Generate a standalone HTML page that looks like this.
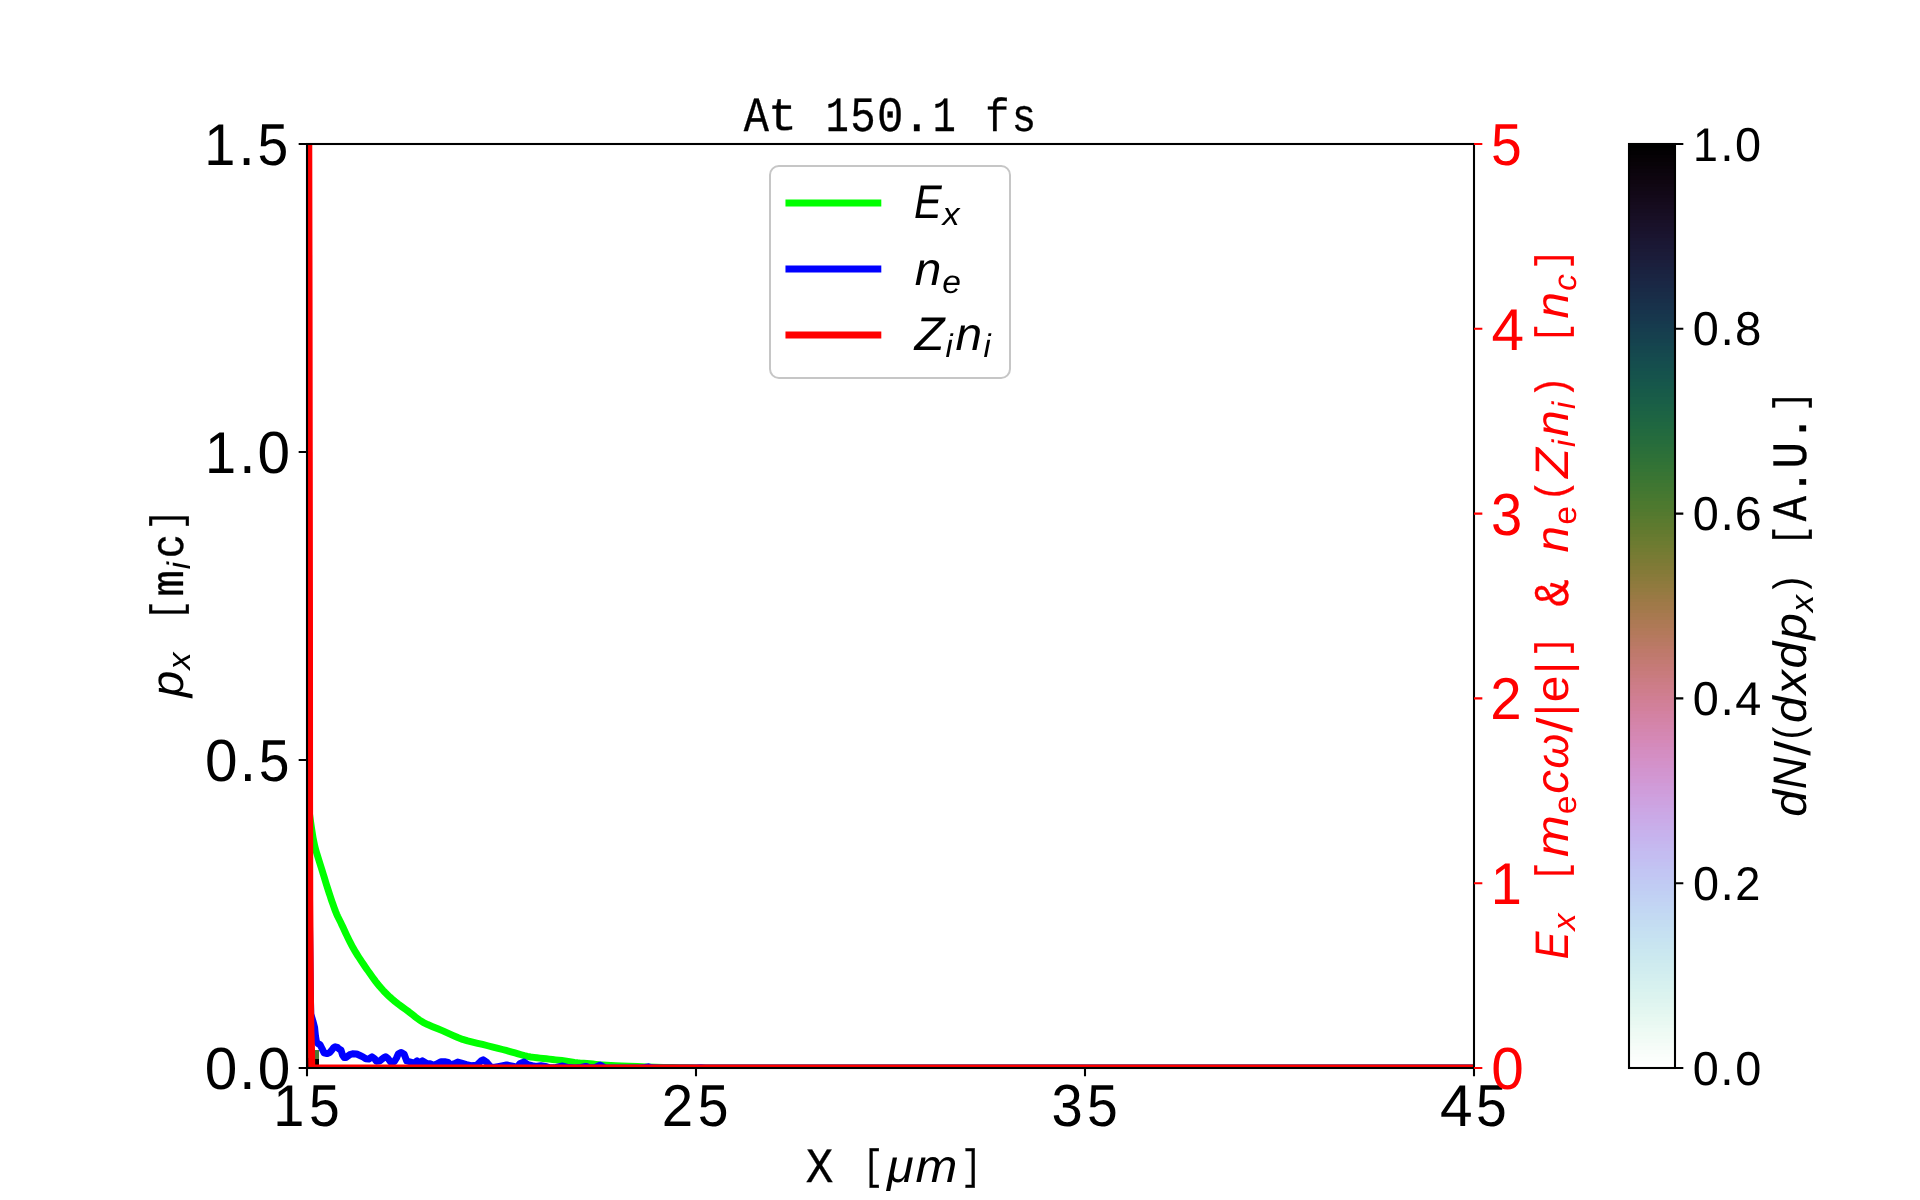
<!DOCTYPE html>
<html><head><meta charset="utf-8"><title>At 150.1 fs</title><style>
html,body{margin:0;padding:0;background:#fff;width:1920px;height:1200px;overflow:hidden}
svg{display:block;will-change:transform}
text{font-kerning:none;text-rendering:geometricPrecision}
.s{font-family:"Liberation Sans",sans-serif}
.i{font-family:"Liberation Sans",sans-serif;font-style:italic}
.m{font-family:"Liberation Mono",monospace;stroke-width:0.3px}
.s,.i{stroke-width:0}
</style></head><body>
<svg width="1920" height="1200" viewBox="0 0 1920 1200">
<rect width="1920" height="1200" fill="#fff"/>
<defs><clipPath id="ax"><rect x="307" y="144" width="1167" height="924"/></clipPath>
<linearGradient id="cb" x1="0" y1="1068" x2="0" y2="144" gradientUnits="userSpaceOnUse"><stop offset="0.00000" stop-color="#ffffff"/><stop offset="0.00391" stop-color="#ffffff"/><stop offset="0.00391" stop-color="#fdfefe"/><stop offset="0.00781" stop-color="#fdfefe"/><stop offset="0.00781" stop-color="#fbfefc"/><stop offset="0.01172" stop-color="#fbfefc"/><stop offset="0.01172" stop-color="#fafdfb"/><stop offset="0.01562" stop-color="#fafdfb"/><stop offset="0.01562" stop-color="#f8fdfa"/><stop offset="0.01953" stop-color="#f8fdfa"/><stop offset="0.01953" stop-color="#f6fcf8"/><stop offset="0.02344" stop-color="#f6fcf8"/><stop offset="0.02344" stop-color="#f4fcf7"/><stop offset="0.02734" stop-color="#f4fcf7"/><stop offset="0.02734" stop-color="#f2fbf6"/><stop offset="0.03125" stop-color="#f2fbf6"/><stop offset="0.03125" stop-color="#f0fbf5"/><stop offset="0.03516" stop-color="#f0fbf5"/><stop offset="0.03516" stop-color="#effaf4"/><stop offset="0.03906" stop-color="#effaf4"/><stop offset="0.03906" stop-color="#edfaf4"/><stop offset="0.04297" stop-color="#edfaf4"/><stop offset="0.04297" stop-color="#ebf9f3"/><stop offset="0.04688" stop-color="#ebf9f3"/><stop offset="0.04688" stop-color="#e9f8f2"/><stop offset="0.05078" stop-color="#e9f8f2"/><stop offset="0.05078" stop-color="#e7f8f1"/><stop offset="0.05469" stop-color="#e7f8f1"/><stop offset="0.05469" stop-color="#e5f7f1"/><stop offset="0.05859" stop-color="#e5f7f1"/><stop offset="0.05859" stop-color="#e3f6f0"/><stop offset="0.06250" stop-color="#e3f6f0"/><stop offset="0.06250" stop-color="#e2f6f0"/><stop offset="0.06641" stop-color="#e2f6f0"/><stop offset="0.06641" stop-color="#e0f5f0"/><stop offset="0.07031" stop-color="#e0f5f0"/><stop offset="0.07031" stop-color="#def4ef"/><stop offset="0.07422" stop-color="#def4ef"/><stop offset="0.07422" stop-color="#dcf3ef"/><stop offset="0.07812" stop-color="#dcf3ef"/><stop offset="0.07812" stop-color="#dbf3ef"/><stop offset="0.08203" stop-color="#dbf3ef"/><stop offset="0.08203" stop-color="#d9f2ef"/><stop offset="0.08594" stop-color="#d9f2ef"/><stop offset="0.08594" stop-color="#d7f1ef"/><stop offset="0.08984" stop-color="#d7f1ef"/><stop offset="0.08984" stop-color="#d6f0ef"/><stop offset="0.09375" stop-color="#d6f0ef"/><stop offset="0.09375" stop-color="#d4efef"/><stop offset="0.09766" stop-color="#d4efef"/><stop offset="0.09766" stop-color="#d3eeef"/><stop offset="0.10156" stop-color="#d3eeef"/><stop offset="0.10156" stop-color="#d1edef"/><stop offset="0.10547" stop-color="#d1edef"/><stop offset="0.10547" stop-color="#d0ecef"/><stop offset="0.10938" stop-color="#d0ecef"/><stop offset="0.10938" stop-color="#cfebef"/><stop offset="0.11328" stop-color="#cfebef"/><stop offset="0.11328" stop-color="#cdeaef"/><stop offset="0.11719" stop-color="#cdeaef"/><stop offset="0.11719" stop-color="#cce9ef"/><stop offset="0.12109" stop-color="#cce9ef"/><stop offset="0.12109" stop-color="#cbe8f0"/><stop offset="0.12500" stop-color="#cbe8f0"/><stop offset="0.12500" stop-color="#cae7f0"/><stop offset="0.12891" stop-color="#cae7f0"/><stop offset="0.12891" stop-color="#c9e5f0"/><stop offset="0.13281" stop-color="#c9e5f0"/><stop offset="0.13281" stop-color="#c8e4f0"/><stop offset="0.13672" stop-color="#c8e4f0"/><stop offset="0.13672" stop-color="#c7e3f1"/><stop offset="0.14062" stop-color="#c7e3f1"/><stop offset="0.14062" stop-color="#c6e1f1"/><stop offset="0.14453" stop-color="#c6e1f1"/><stop offset="0.14453" stop-color="#c6e0f1"/><stop offset="0.14844" stop-color="#c6e0f1"/><stop offset="0.14844" stop-color="#c5dff2"/><stop offset="0.15234" stop-color="#c5dff2"/><stop offset="0.15234" stop-color="#c4ddf2"/><stop offset="0.15625" stop-color="#c4ddf2"/><stop offset="0.15625" stop-color="#c4dcf2"/><stop offset="0.16016" stop-color="#c4dcf2"/><stop offset="0.16016" stop-color="#c3daf2"/><stop offset="0.16406" stop-color="#c3daf2"/><stop offset="0.16406" stop-color="#c3d9f3"/><stop offset="0.16797" stop-color="#c3d9f3"/><stop offset="0.16797" stop-color="#c2d7f3"/><stop offset="0.17188" stop-color="#c2d7f3"/><stop offset="0.17188" stop-color="#c2d6f3"/><stop offset="0.17578" stop-color="#c2d6f3"/><stop offset="0.17578" stop-color="#c2d4f3"/><stop offset="0.17969" stop-color="#c2d4f3"/><stop offset="0.17969" stop-color="#c2d2f3"/><stop offset="0.18359" stop-color="#c2d2f3"/><stop offset="0.18359" stop-color="#c1d1f3"/><stop offset="0.18750" stop-color="#c1d1f3"/><stop offset="0.18750" stop-color="#c1cff3"/><stop offset="0.19141" stop-color="#c1cff3"/><stop offset="0.19141" stop-color="#c1cdf3"/><stop offset="0.19531" stop-color="#c1cdf3"/><stop offset="0.19531" stop-color="#c1ccf3"/><stop offset="0.19922" stop-color="#c1ccf3"/><stop offset="0.19922" stop-color="#c1caf3"/><stop offset="0.20312" stop-color="#c1caf3"/><stop offset="0.20312" stop-color="#c2c8f3"/><stop offset="0.20703" stop-color="#c2c8f3"/><stop offset="0.20703" stop-color="#c2c6f3"/><stop offset="0.21094" stop-color="#c2c6f3"/><stop offset="0.21094" stop-color="#c2c5f3"/><stop offset="0.21484" stop-color="#c2c5f3"/><stop offset="0.21484" stop-color="#c2c3f2"/><stop offset="0.21875" stop-color="#c2c3f2"/><stop offset="0.21875" stop-color="#c3c1f2"/><stop offset="0.22266" stop-color="#c3c1f2"/><stop offset="0.22266" stop-color="#c3bff2"/><stop offset="0.22656" stop-color="#c3bff2"/><stop offset="0.22656" stop-color="#c4bdf1"/><stop offset="0.23047" stop-color="#c4bdf1"/><stop offset="0.23047" stop-color="#c4bcf1"/><stop offset="0.23438" stop-color="#c4bcf1"/><stop offset="0.23438" stop-color="#c5baf0"/><stop offset="0.23828" stop-color="#c5baf0"/><stop offset="0.23828" stop-color="#c5b8ef"/><stop offset="0.24219" stop-color="#c5b8ef"/><stop offset="0.24219" stop-color="#c6b6ee"/><stop offset="0.24609" stop-color="#c6b6ee"/><stop offset="0.24609" stop-color="#c6b4ee"/><stop offset="0.25000" stop-color="#c6b4ee"/><stop offset="0.25000" stop-color="#c7b2ed"/><stop offset="0.25391" stop-color="#c7b2ed"/><stop offset="0.25391" stop-color="#c8b1ec"/><stop offset="0.25781" stop-color="#c8b1ec"/><stop offset="0.25781" stop-color="#c8afea"/><stop offset="0.26172" stop-color="#c8afea"/><stop offset="0.26172" stop-color="#c9ade9"/><stop offset="0.26562" stop-color="#c9ade9"/><stop offset="0.26562" stop-color="#caabe8"/><stop offset="0.26953" stop-color="#caabe8"/><stop offset="0.26953" stop-color="#caa9e7"/><stop offset="0.27344" stop-color="#caa9e7"/><stop offset="0.27344" stop-color="#cba8e5"/><stop offset="0.27734" stop-color="#cba8e5"/><stop offset="0.27734" stop-color="#cca6e4"/><stop offset="0.28125" stop-color="#cca6e4"/><stop offset="0.28125" stop-color="#cca4e2"/><stop offset="0.28516" stop-color="#cca4e2"/><stop offset="0.28516" stop-color="#cda2e0"/><stop offset="0.28906" stop-color="#cda2e0"/><stop offset="0.28906" stop-color="#cea1df"/><stop offset="0.29297" stop-color="#cea1df"/><stop offset="0.29297" stop-color="#cf9fdd"/><stop offset="0.29688" stop-color="#cf9fdd"/><stop offset="0.29688" stop-color="#cf9ddb"/><stop offset="0.30078" stop-color="#cf9ddb"/><stop offset="0.30078" stop-color="#d09cd9"/><stop offset="0.30469" stop-color="#d09cd9"/><stop offset="0.30469" stop-color="#d09ad7"/><stop offset="0.30859" stop-color="#d09ad7"/><stop offset="0.30859" stop-color="#d198d4"/><stop offset="0.31250" stop-color="#d198d4"/><stop offset="0.31250" stop-color="#d297d2"/><stop offset="0.31641" stop-color="#d297d2"/><stop offset="0.31641" stop-color="#d295d0"/><stop offset="0.32031" stop-color="#d295d0"/><stop offset="0.32031" stop-color="#d294ce"/><stop offset="0.32422" stop-color="#d294ce"/><stop offset="0.32422" stop-color="#d392cb"/><stop offset="0.32812" stop-color="#d392cb"/><stop offset="0.32812" stop-color="#d391c9"/><stop offset="0.33203" stop-color="#d391c9"/><stop offset="0.33203" stop-color="#d490c6"/><stop offset="0.33594" stop-color="#d490c6"/><stop offset="0.33594" stop-color="#d48ec3"/><stop offset="0.33984" stop-color="#d48ec3"/><stop offset="0.33984" stop-color="#d48dc1"/><stop offset="0.34375" stop-color="#d48dc1"/><stop offset="0.34375" stop-color="#d48cbe"/><stop offset="0.34766" stop-color="#d48cbe"/><stop offset="0.34766" stop-color="#d48abb"/><stop offset="0.35156" stop-color="#d48abb"/><stop offset="0.35156" stop-color="#d589b8"/><stop offset="0.35547" stop-color="#d589b8"/><stop offset="0.35547" stop-color="#d588b5"/><stop offset="0.35938" stop-color="#d588b5"/><stop offset="0.35938" stop-color="#d487b2"/><stop offset="0.36328" stop-color="#d487b2"/><stop offset="0.36328" stop-color="#d486af"/><stop offset="0.36719" stop-color="#d486af"/><stop offset="0.36719" stop-color="#d485ac"/><stop offset="0.37109" stop-color="#d485ac"/><stop offset="0.37109" stop-color="#d484a9"/><stop offset="0.37500" stop-color="#d484a9"/><stop offset="0.37500" stop-color="#d383a6"/><stop offset="0.37891" stop-color="#d383a6"/><stop offset="0.37891" stop-color="#d382a3"/><stop offset="0.38281" stop-color="#d382a3"/><stop offset="0.38281" stop-color="#d381a0"/><stop offset="0.38672" stop-color="#d381a0"/><stop offset="0.38672" stop-color="#d2809c"/><stop offset="0.39062" stop-color="#d2809c"/><stop offset="0.39062" stop-color="#d18099"/><stop offset="0.39453" stop-color="#d18099"/><stop offset="0.39453" stop-color="#d17f96"/><stop offset="0.39844" stop-color="#d17f96"/><stop offset="0.39844" stop-color="#d07e93"/><stop offset="0.40234" stop-color="#d07e93"/><stop offset="0.40234" stop-color="#cf7e8f"/><stop offset="0.40625" stop-color="#cf7e8f"/><stop offset="0.40625" stop-color="#ce7d8c"/><stop offset="0.41016" stop-color="#ce7d8c"/><stop offset="0.41016" stop-color="#cd7d89"/><stop offset="0.41406" stop-color="#cd7d89"/><stop offset="0.41406" stop-color="#cc7c86"/><stop offset="0.41797" stop-color="#cc7c86"/><stop offset="0.41797" stop-color="#ca7c83"/><stop offset="0.42188" stop-color="#ca7c83"/><stop offset="0.42188" stop-color="#c97b7f"/><stop offset="0.42578" stop-color="#c97b7f"/><stop offset="0.42578" stop-color="#c87b7c"/><stop offset="0.42969" stop-color="#c87b7c"/><stop offset="0.42969" stop-color="#c67a79"/><stop offset="0.43359" stop-color="#c67a79"/><stop offset="0.43359" stop-color="#c57a76"/><stop offset="0.43750" stop-color="#c57a76"/><stop offset="0.43750" stop-color="#c37a73"/><stop offset="0.44141" stop-color="#c37a73"/><stop offset="0.44141" stop-color="#c17a70"/><stop offset="0.44531" stop-color="#c17a70"/><stop offset="0.44531" stop-color="#bf796d"/><stop offset="0.44922" stop-color="#bf796d"/><stop offset="0.44922" stop-color="#be796a"/><stop offset="0.45312" stop-color="#be796a"/><stop offset="0.45312" stop-color="#bc7967"/><stop offset="0.45703" stop-color="#bc7967"/><stop offset="0.45703" stop-color="#b97964"/><stop offset="0.46094" stop-color="#b97964"/><stop offset="0.46094" stop-color="#b77961"/><stop offset="0.46484" stop-color="#b77961"/><stop offset="0.46484" stop-color="#b5795e"/><stop offset="0.46875" stop-color="#b5795e"/><stop offset="0.46875" stop-color="#b3795b"/><stop offset="0.47266" stop-color="#b3795b"/><stop offset="0.47266" stop-color="#b17959"/><stop offset="0.47656" stop-color="#b17959"/><stop offset="0.47656" stop-color="#ae7956"/><stop offset="0.48047" stop-color="#ae7956"/><stop offset="0.48047" stop-color="#ac7954"/><stop offset="0.48438" stop-color="#ac7954"/><stop offset="0.48438" stop-color="#a97951"/><stop offset="0.48828" stop-color="#a97951"/><stop offset="0.48828" stop-color="#a7794f"/><stop offset="0.49219" stop-color="#a7794f"/><stop offset="0.49219" stop-color="#a4794c"/><stop offset="0.49609" stop-color="#a4794c"/><stop offset="0.49609" stop-color="#a1794a"/><stop offset="0.50000" stop-color="#a1794a"/><stop offset="0.50000" stop-color="#9f7948"/><stop offset="0.50391" stop-color="#9f7948"/><stop offset="0.50391" stop-color="#9c7946"/><stop offset="0.50781" stop-color="#9c7946"/><stop offset="0.50781" stop-color="#997944"/><stop offset="0.51172" stop-color="#997944"/><stop offset="0.51172" stop-color="#967a42"/><stop offset="0.51562" stop-color="#967a42"/><stop offset="0.51562" stop-color="#937a40"/><stop offset="0.51953" stop-color="#937a40"/><stop offset="0.51953" stop-color="#907a3e"/><stop offset="0.52344" stop-color="#907a3e"/><stop offset="0.52344" stop-color="#8d7a3d"/><stop offset="0.52734" stop-color="#8d7a3d"/><stop offset="0.52734" stop-color="#8a7a3b"/><stop offset="0.53125" stop-color="#8a7a3b"/><stop offset="0.53125" stop-color="#877a3a"/><stop offset="0.53516" stop-color="#877a3a"/><stop offset="0.53516" stop-color="#847a38"/><stop offset="0.53906" stop-color="#847a38"/><stop offset="0.53906" stop-color="#817a37"/><stop offset="0.54297" stop-color="#817a37"/><stop offset="0.54297" stop-color="#7e7a36"/><stop offset="0.54688" stop-color="#7e7a36"/><stop offset="0.54688" stop-color="#7b7a35"/><stop offset="0.55078" stop-color="#7b7a35"/><stop offset="0.55078" stop-color="#787b34"/><stop offset="0.55469" stop-color="#787b34"/><stop offset="0.55469" stop-color="#757b33"/><stop offset="0.55859" stop-color="#757b33"/><stop offset="0.55859" stop-color="#727b32"/><stop offset="0.56250" stop-color="#727b32"/><stop offset="0.56250" stop-color="#6f7b31"/><stop offset="0.56641" stop-color="#6f7b31"/><stop offset="0.56641" stop-color="#6c7b31"/><stop offset="0.57031" stop-color="#6c7b31"/><stop offset="0.57031" stop-color="#697b30"/><stop offset="0.57422" stop-color="#697b30"/><stop offset="0.57422" stop-color="#667a30"/><stop offset="0.57812" stop-color="#667a30"/><stop offset="0.57812" stop-color="#637a2f"/><stop offset="0.58203" stop-color="#637a2f"/><stop offset="0.58203" stop-color="#607a2f"/><stop offset="0.58594" stop-color="#607a2f"/><stop offset="0.58594" stop-color="#5d7a2f"/><stop offset="0.58984" stop-color="#5d7a2f"/><stop offset="0.58984" stop-color="#5a7a2f"/><stop offset="0.59375" stop-color="#5a7a2f"/><stop offset="0.59375" stop-color="#577a2f"/><stop offset="0.59766" stop-color="#577a2f"/><stop offset="0.59766" stop-color="#54792f"/><stop offset="0.60156" stop-color="#54792f"/><stop offset="0.60156" stop-color="#51792f"/><stop offset="0.60547" stop-color="#51792f"/><stop offset="0.60547" stop-color="#4e792f"/><stop offset="0.60938" stop-color="#4e792f"/><stop offset="0.60938" stop-color="#4c792f"/><stop offset="0.61328" stop-color="#4c792f"/><stop offset="0.61328" stop-color="#497830"/><stop offset="0.61719" stop-color="#497830"/><stop offset="0.61719" stop-color="#467830"/><stop offset="0.62109" stop-color="#467830"/><stop offset="0.62109" stop-color="#447731"/><stop offset="0.62500" stop-color="#447731"/><stop offset="0.62500" stop-color="#417731"/><stop offset="0.62891" stop-color="#417731"/><stop offset="0.62891" stop-color="#3f7632"/><stop offset="0.63281" stop-color="#3f7632"/><stop offset="0.63281" stop-color="#3c7632"/><stop offset="0.63672" stop-color="#3c7632"/><stop offset="0.63672" stop-color="#3a7533"/><stop offset="0.64062" stop-color="#3a7533"/><stop offset="0.64062" stop-color="#387434"/><stop offset="0.64453" stop-color="#387434"/><stop offset="0.64453" stop-color="#357435"/><stop offset="0.64844" stop-color="#357435"/><stop offset="0.64844" stop-color="#337335"/><stop offset="0.65234" stop-color="#337335"/><stop offset="0.65234" stop-color="#317236"/><stop offset="0.65625" stop-color="#317236"/><stop offset="0.65625" stop-color="#2f7137"/><stop offset="0.66016" stop-color="#2f7137"/><stop offset="0.66016" stop-color="#2d7038"/><stop offset="0.66406" stop-color="#2d7038"/><stop offset="0.66406" stop-color="#2b6f39"/><stop offset="0.66797" stop-color="#2b6f39"/><stop offset="0.66797" stop-color="#2a6e3a"/><stop offset="0.67188" stop-color="#2a6e3a"/><stop offset="0.67188" stop-color="#286d3b"/><stop offset="0.67578" stop-color="#286d3b"/><stop offset="0.67578" stop-color="#266c3c"/><stop offset="0.67969" stop-color="#266c3c"/><stop offset="0.67969" stop-color="#256b3d"/><stop offset="0.68359" stop-color="#256b3d"/><stop offset="0.68359" stop-color="#236a3e"/><stop offset="0.68750" stop-color="#236a3e"/><stop offset="0.68750" stop-color="#22693f"/><stop offset="0.69141" stop-color="#22693f"/><stop offset="0.69141" stop-color="#206840"/><stop offset="0.69531" stop-color="#206840"/><stop offset="0.69531" stop-color="#1f6741"/><stop offset="0.69922" stop-color="#1f6741"/><stop offset="0.69922" stop-color="#1e6542"/><stop offset="0.70312" stop-color="#1e6542"/><stop offset="0.70312" stop-color="#1d6443"/><stop offset="0.70703" stop-color="#1d6443"/><stop offset="0.70703" stop-color="#1c6344"/><stop offset="0.71094" stop-color="#1c6344"/><stop offset="0.71094" stop-color="#1b6145"/><stop offset="0.71484" stop-color="#1b6145"/><stop offset="0.71484" stop-color="#1a6046"/><stop offset="0.71875" stop-color="#1a6046"/><stop offset="0.71875" stop-color="#195e47"/><stop offset="0.72266" stop-color="#195e47"/><stop offset="0.72266" stop-color="#195d48"/><stop offset="0.72656" stop-color="#195d48"/><stop offset="0.72656" stop-color="#185b48"/><stop offset="0.73047" stop-color="#185b48"/><stop offset="0.73047" stop-color="#175a49"/><stop offset="0.73438" stop-color="#175a49"/><stop offset="0.73438" stop-color="#17584a"/><stop offset="0.73828" stop-color="#17584a"/><stop offset="0.73828" stop-color="#16574b"/><stop offset="0.74219" stop-color="#16574b"/><stop offset="0.74219" stop-color="#16554b"/><stop offset="0.74609" stop-color="#16554b"/><stop offset="0.74609" stop-color="#16534c"/><stop offset="0.75000" stop-color="#16534c"/><stop offset="0.75000" stop-color="#15524c"/><stop offset="0.75391" stop-color="#15524c"/><stop offset="0.75391" stop-color="#15504d"/><stop offset="0.75781" stop-color="#15504d"/><stop offset="0.75781" stop-color="#154e4d"/><stop offset="0.76172" stop-color="#154e4d"/><stop offset="0.76172" stop-color="#154d4e"/><stop offset="0.76562" stop-color="#154d4e"/><stop offset="0.76562" stop-color="#154b4e"/><stop offset="0.76953" stop-color="#154b4e"/><stop offset="0.76953" stop-color="#15494e"/><stop offset="0.77344" stop-color="#15494e"/><stop offset="0.77344" stop-color="#15474e"/><stop offset="0.77734" stop-color="#15474e"/><stop offset="0.77734" stop-color="#15464e"/><stop offset="0.78125" stop-color="#15464e"/><stop offset="0.78125" stop-color="#15444f"/><stop offset="0.78516" stop-color="#15444f"/><stop offset="0.78516" stop-color="#15424e"/><stop offset="0.78906" stop-color="#15424e"/><stop offset="0.78906" stop-color="#16404e"/><stop offset="0.79297" stop-color="#16404e"/><stop offset="0.79297" stop-color="#163f4e"/><stop offset="0.79688" stop-color="#163f4e"/><stop offset="0.79688" stop-color="#163d4e"/><stop offset="0.80078" stop-color="#163d4e"/><stop offset="0.80078" stop-color="#163b4e"/><stop offset="0.80469" stop-color="#163b4e"/><stop offset="0.80469" stop-color="#16394d"/><stop offset="0.80859" stop-color="#16394d"/><stop offset="0.80859" stop-color="#17374d"/><stop offset="0.81250" stop-color="#17374d"/><stop offset="0.81250" stop-color="#17364c"/><stop offset="0.81641" stop-color="#17364c"/><stop offset="0.81641" stop-color="#17344c"/><stop offset="0.82031" stop-color="#17344c"/><stop offset="0.82031" stop-color="#18324b"/><stop offset="0.82422" stop-color="#18324b"/><stop offset="0.82422" stop-color="#18314a"/><stop offset="0.82812" stop-color="#18314a"/><stop offset="0.82812" stop-color="#182f49"/><stop offset="0.83203" stop-color="#182f49"/><stop offset="0.83203" stop-color="#192d48"/><stop offset="0.83594" stop-color="#192d48"/><stop offset="0.83594" stop-color="#192c47"/><stop offset="0.83984" stop-color="#192c47"/><stop offset="0.83984" stop-color="#192a46"/><stop offset="0.84375" stop-color="#192a46"/><stop offset="0.84375" stop-color="#192845"/><stop offset="0.84766" stop-color="#192845"/><stop offset="0.84766" stop-color="#1a2744"/><stop offset="0.85156" stop-color="#1a2744"/><stop offset="0.85156" stop-color="#1a2543"/><stop offset="0.85547" stop-color="#1a2543"/><stop offset="0.85547" stop-color="#1a2441"/><stop offset="0.85938" stop-color="#1a2441"/><stop offset="0.85938" stop-color="#1a2240"/><stop offset="0.86328" stop-color="#1a2240"/><stop offset="0.86328" stop-color="#1a213e"/><stop offset="0.86719" stop-color="#1a213e"/><stop offset="0.86719" stop-color="#1b1f3d"/><stop offset="0.87109" stop-color="#1b1f3d"/><stop offset="0.87109" stop-color="#1b1e3b"/><stop offset="0.87500" stop-color="#1b1e3b"/><stop offset="0.87500" stop-color="#1b1c3a"/><stop offset="0.87891" stop-color="#1b1c3a"/><stop offset="0.87891" stop-color="#1b1b38"/><stop offset="0.88281" stop-color="#1b1b38"/><stop offset="0.88281" stop-color="#1b1a36"/><stop offset="0.88672" stop-color="#1b1a36"/><stop offset="0.88672" stop-color="#1a1835"/><stop offset="0.89062" stop-color="#1a1835"/><stop offset="0.89062" stop-color="#1a1733"/><stop offset="0.89453" stop-color="#1a1733"/><stop offset="0.89453" stop-color="#1a1631"/><stop offset="0.89844" stop-color="#1a1631"/><stop offset="0.89844" stop-color="#1a142f"/><stop offset="0.90234" stop-color="#1a142f"/><stop offset="0.90234" stop-color="#19132d"/><stop offset="0.90625" stop-color="#19132d"/><stop offset="0.90625" stop-color="#19122b"/><stop offset="0.91016" stop-color="#19122b"/><stop offset="0.91016" stop-color="#191129"/><stop offset="0.91406" stop-color="#191129"/><stop offset="0.91406" stop-color="#181027"/><stop offset="0.91797" stop-color="#181027"/><stop offset="0.91797" stop-color="#180f25"/><stop offset="0.92188" stop-color="#180f25"/><stop offset="0.92188" stop-color="#170e23"/><stop offset="0.92578" stop-color="#170e23"/><stop offset="0.92578" stop-color="#160d21"/><stop offset="0.92969" stop-color="#160d21"/><stop offset="0.92969" stop-color="#160c1f"/><stop offset="0.93359" stop-color="#160c1f"/><stop offset="0.93359" stop-color="#150b1d"/><stop offset="0.93750" stop-color="#150b1d"/><stop offset="0.93750" stop-color="#140a1b"/><stop offset="0.94141" stop-color="#140a1b"/><stop offset="0.94141" stop-color="#130919"/><stop offset="0.94531" stop-color="#130919"/><stop offset="0.94531" stop-color="#120817"/><stop offset="0.94922" stop-color="#120817"/><stop offset="0.94922" stop-color="#110815"/><stop offset="0.95312" stop-color="#110815"/><stop offset="0.95312" stop-color="#100713"/><stop offset="0.95703" stop-color="#100713"/><stop offset="0.95703" stop-color="#0f0611"/><stop offset="0.96094" stop-color="#0f0611"/><stop offset="0.96094" stop-color="#0e050f"/><stop offset="0.96484" stop-color="#0e050f"/><stop offset="0.96484" stop-color="#0c050e"/><stop offset="0.96875" stop-color="#0c050e"/><stop offset="0.96875" stop-color="#0b040c"/><stop offset="0.97266" stop-color="#0b040c"/><stop offset="0.97266" stop-color="#0a030a"/><stop offset="0.97656" stop-color="#0a030a"/><stop offset="0.97656" stop-color="#080308"/><stop offset="0.98047" stop-color="#080308"/><stop offset="0.98047" stop-color="#070206"/><stop offset="0.98438" stop-color="#070206"/><stop offset="0.98438" stop-color="#050205"/><stop offset="0.98828" stop-color="#050205"/><stop offset="0.98828" stop-color="#030103"/><stop offset="0.99219" stop-color="#030103"/><stop offset="0.99219" stop-color="#020102"/><stop offset="0.99609" stop-color="#020102"/><stop offset="0.99609" stop-color="#000000"/><stop offset="1.00000" stop-color="#000000"/></linearGradient></defs>
<g clip-path="url(#ax)"><rect x="315" y="1050" width="4" height="9" fill="#4b7a35"/><rect x="315" y="1059" width="4" height="9" fill="#000"/><rect x="307" y="1030" width="4" height="18" fill="#9a7040"/><rect x="307" y="1048" width="4" height="10" fill="#4b7a35"/><rect x="307" y="1058" width="4" height="10" fill="#000"/></g>
<path d="M307 1068H298.667M307 760H298.667M307 452H298.667M307 144H298.667M307 1068V1076.333M696 1068V1076.333M1085 1068V1076.333M1474 1068V1076.333" stroke="#000" stroke-width="2.083" fill="none"/>
<g fill="#000000" stroke="#000000"><text class="s" font-size="55.556" transform="matrix(1.007 0 0 1.06 273.31 1125.852)">1</text><text class="s" font-size="55.556" transform="matrix(0.995 0 0 1.065 308.887 1126.061)">5</text></g>
<g fill="#000000" stroke="#000000"><text class="s" font-size="55.556" transform="matrix(1.016 0 0 1.063 661.665 1125.812)">2</text><text class="s" font-size="55.556" transform="matrix(0.995 0 0 1.065 697.854 1126.021)">5</text></g>
<g fill="#000000" stroke="#000000"><text class="s" font-size="55.556" transform="matrix(1.012 0 0 1.068 1051.555 1125.969)">3</text><text class="s" font-size="55.556" transform="matrix(0.995 0 0 1.065 1086.884 1125.971)">5</text></g>
<g fill="#000000" stroke="#000000"><text class="s" font-size="55.556" transform="matrix(1.054 0 0 1.06 1440.004 1125.922)">4</text><text class="s" font-size="55.556" transform="matrix(0.995 0 0 1.065 1476.054 1126.131)">5</text></g>
<g fill="#000000" stroke="#000000"><text class="m" font-size="44.444" transform="matrix(1.034 0 0 1.107 805.791 1181.591)">X</text><text class="m" font-size="44.444" x="831.866" y="1179.521"> </text><text class="m" font-size="44.444" transform="matrix(0.775 0 0 0.957 862.874 1178.628)">[</text><text class="i" font-size="44.444" transform="matrix(1.095 0 0 1.048 886.917 1181.896)">μ</text><text class="i" font-size="44.444" transform="matrix(1.131 0 0 1.042 915.486 1181.591)">m</text><text class="m" font-size="44.444" transform="matrix(0.775 0 0 0.957 961.019 1178.628)">]</text></g>
<g fill="#000000" stroke="#000000"><text class="s" font-size="55.556" transform="matrix(1.054 0 0 1.068 204.637 1089.207)">0</text><text class="s" font-size="55.556" transform="matrix(1.082 0 0 1.16 239.061 1089)">.</text><text class="s" font-size="55.556" transform="matrix(1.054 0 0 1.068 257.643 1089.207)">0</text></g>
<g fill="#000000" stroke="#000000"><text class="s" font-size="55.556" transform="matrix(1.054 0 0 1.068 204.962 781.117)">0</text><text class="s" font-size="55.556" transform="matrix(1.082 0 0 1.16 239.386 780.91)">.</text><text class="s" font-size="55.556" transform="matrix(0.995 0 0 1.065 258.667 781.119)">5</text></g>
<g fill="#000000" stroke="#000000"><text class="s" font-size="55.556" transform="matrix(1.007 0 0 1.06 204.946 472.98)">1</text><text class="s" font-size="55.556" transform="matrix(1.082 0 0 1.16 238.901 472.98)">.</text><text class="s" font-size="55.556" transform="matrix(1.054 0 0 1.068 257.483 473.187)">0</text></g>
<g fill="#000000" stroke="#000000"><text class="s" font-size="55.556" transform="matrix(1.007 0 0 1.06 204.281 164.88)">1</text><text class="s" font-size="55.556" transform="matrix(1.082 0 0 1.16 238.236 164.88)">.</text><text class="s" font-size="55.556" transform="matrix(0.995 0 0 1.065 257.517 165.089)">5</text></g>
<g fill="#000000" stroke="#000000"><text class="i" font-size="44.444" transform="matrix(0 -1.078 1.03 0 182.599 697.205)">p</text><text class="i" font-size="31.111" transform="matrix(0 -1.099 1.035 0 190.147 669.492)">x</text><text class="m" font-size="44.444" x="186.215" y="650.259"> </text><text class="m" font-size="44.444" transform="matrix(0 -0.775 0.957 0 179.893 620.521)">[</text><text class="m" font-size="44.444" transform="matrix(0 -1.001 1.041 0 182.855 596.699)">m</text><text class="i" font-size="31.111" transform="matrix(0 -1.041 1.049 0 190.147 569.159)">i</text><text class="m" font-size="44.444" transform="matrix(0 -0.912 1.048 0 183.03 558.212)">c</text><text class="m" font-size="44.444" transform="matrix(0 -0.775 0.957 0 179.893 530.147)">]</text></g>
<g fill="#000000" stroke="#000000"><text class="m" font-size="44.444" transform="matrix(0.944 0 0 1.107 743.678 130.53)">A</text><text class="m" font-size="44.444" transform="matrix(1.089 0 0 1.042 767.983 130.168)">t</text><text class="m" font-size="44.444" x="796.891" y="135"> </text><text class="m" font-size="44.444" transform="matrix(0.864 0 0 1.107 825.713 130.53)">1</text><text class="m" font-size="44.444" transform="matrix(0.954 0 0 1.112 850.361 130.677)">5</text><text class="m" font-size="44.444" transform="matrix(0.988 0 0 1.114 876.892 130.676)">0</text><text class="m" font-size="44.444" transform="matrix(1.072 0 0 1.02 902.491 130.53)">.</text><text class="m" font-size="44.444" transform="matrix(0.864 0 0 1.107 932.745 130.53)">1</text><text class="m" font-size="44.444" x="957.438" y="135"> </text><text class="m" font-size="44.444" transform="matrix(0.903 0 0 1.049 985.222 130.53)">f</text><text class="m" font-size="44.444" transform="matrix(0.915 0 0 1.051 1011.76 130.703)">s</text></g>
<rect x="1629" y="144" width="46" height="924" fill="url(#cb)"/>
<path d="M1675 1068H1683.333M1675 883.2H1683.333M1675 698.4H1683.333M1675 513.6H1683.333M1675 328.8H1683.333M1675 144H1683.333" stroke="#000" stroke-width="2.083" fill="none"/>
<rect x="1629" y="144" width="46" height="924" fill="none" stroke="#000" stroke-width="2.083"/>
<g fill="#000000" stroke="#000000"><text class="s" font-size="44.444" transform="matrix(1.054 0 0 1.068 1692.794 1085.136)">0</text><text class="s" font-size="44.444" transform="matrix(1.082 0 0 1.16 1720.333 1084.97)">.</text><text class="s" font-size="44.444" transform="matrix(1.054 0 0 1.068 1735.199 1085.136)">0</text></g>
<g fill="#000000" stroke="#000000"><text class="s" font-size="44.444" transform="matrix(1.054 0 0 1.068 1692.954 900.346)">0</text><text class="s" font-size="44.444" transform="matrix(1.082 0 0 1.16 1720.493 900.18)">.</text><text class="s" font-size="44.444" transform="matrix(1.016 0 0 1.063 1735.243 900.18)">2</text></g>
<g fill="#000000" stroke="#000000"><text class="s" font-size="44.444" transform="matrix(1.054 0 0 1.068 1692.844 715.466)">0</text><text class="s" font-size="44.444" transform="matrix(1.082 0 0 1.16 1720.383 715.3)">.</text><text class="s" font-size="44.444" transform="matrix(1.054 0 0 1.06 1735.244 715.3)">4</text></g>
<g fill="#000000" stroke="#000000"><text class="s" font-size="44.444" transform="matrix(1.054 0 0 1.068 1692.864 529.716)">0</text><text class="s" font-size="44.444" transform="matrix(1.082 0 0 1.16 1720.403 529.55)">.</text><text class="s" font-size="44.444" transform="matrix(1.091 0 0 1.068 1734.81 529.716)">6</text></g>
<g fill="#000000" stroke="#000000"><text class="s" font-size="44.444" transform="matrix(1.054 0 0 1.068 1692.844 344.946)">0</text><text class="s" font-size="44.444" transform="matrix(1.082 0 0 1.16 1720.383 344.78)">.</text><text class="s" font-size="44.444" transform="matrix(1.066 0 0 1.068 1735.107 344.946)">8</text></g>
<g fill="#000000" stroke="#000000"><text class="s" font-size="44.444" transform="matrix(1.007 0 0 1.06 1693.079 161.02)">1</text><text class="s" font-size="44.444" transform="matrix(1.082 0 0 1.16 1720.243 161.02)">.</text><text class="s" font-size="44.444" transform="matrix(1.054 0 0 1.068 1735.109 161.186)">0</text></g>
<g fill="#000000" stroke="#000000"><text class="i" font-size="44.444" transform="matrix(0 -1.081 1.053 0 1806.212 816.858)">d</text><text class="i" font-size="44.444" transform="matrix(0 -1.004 1.06 0 1806.063 789.246)">N</text><text class="s" font-size="44.444" transform="matrix(0 -1.213 1.119 0 1809.701 755.821)">/</text><text class="s" font-size="44.444" transform="matrix(0 -0.845 0.956 0 1803.126 739.357)">(</text><text class="i" font-size="44.444" transform="matrix(0 -1.081 1.053 0 1806.212 723.086)">d</text><text class="i" font-size="44.444" transform="matrix(0 -1.099 1.035 0 1806.063 694.489)">x</text><text class="i" font-size="44.444" transform="matrix(0 -1.081 1.053 0 1806.212 668.572)">d</text><text class="i" font-size="44.444" transform="matrix(0 -1.078 1.03 0 1805.807 639.718)">p</text><text class="i" font-size="31.111" transform="matrix(0 -1.099 1.035 0 1813.355 612.005)">x</text><text class="s" font-size="44.444" transform="matrix(0 -0.845 0.956 0 1803.126 589.604)">)</text><text class="m" font-size="44.444" x="1800.493" y="575.054"> </text><text class="m" font-size="44.444" transform="matrix(0 -0.775 0.957 0 1803.1 545.695)">[</text><text class="m" font-size="44.444" transform="matrix(0 -0.944 1.107 0 1806.063 521.285)">A</text><text class="m" font-size="44.444" transform="matrix(0 -1.072 1.02 0 1806.063 496.261)">.</text><text class="m" font-size="44.444" transform="matrix(0 -0.995 1.112 0 1806.21 468.448)">U</text><text class="m" font-size="44.444" transform="matrix(0 -1.072 1.02 0 1806.063 442.745)">.</text><text class="m" font-size="44.444" transform="matrix(0 -0.775 0.957 0 1803.1 412.09)">]</text></g>
<g clip-path="url(#ax)" fill="none" stroke-width="6.944" stroke-linejoin="round" stroke-linecap="square">
<path d="M308.3 760 L309 810 L309.24 811.797 L309.583 814.375 L309.972 817.266 L310.35 820 L310.706 822.5 L311.069 825 L311.441 827.5 L311.825 830 L312.209 832.5 L312.597 835 L313.011 837.5 L313.475 840 L313.987 842.481 L314.536 844.95 L315.136 847.444 L315.8 850 L316.548 852.641 L317.367 855.344 L318.222 858.074 L319.075 860.8 L319.929 863.52 L320.8 866.25 L321.671 868.98 L322.525 871.7 L323.352 874.407 L324.163 877.106 L324.973 879.802 L325.8 882.5 L326.645 885.198 L327.5 887.894 L328.368 890.593 L329.25 893.3 L330.149 896.034 L331.064 898.787 L331.99 901.522 L332.925 904.2 L333.867 906.848 L334.817 909.475 L335.778 912.014 L336.75 914.4 L337.736 916.557 L338.734 918.541 L339.741 920.479 L340.75 922.5 L341.762 924.642 L342.778 926.834 L343.799 929.047 L344.825 931.25 L345.846 933.438 L346.864 935.625 L347.901 937.812 L348.975 940 L350.086 942.188 L351.225 944.375 L352.402 946.562 L353.625 948.75 L354.902 950.938 L356.227 953.125 L357.588 955.312 L358.975 957.5 L360.39 959.688 L361.836 961.875 L363.308 964.062 L364.8 966.25 L366.312 968.438 L367.845 970.625 L369.4 972.812 L370.975 975 L372.548 977.188 L374.128 979.375 L375.756 981.562 L377.475 983.75 L379.271 985.932 L381.131 988.109 L383.094 990.295 L385.2 992.5 L387.406 994.7 L389.708 996.897 L392.206 999.146 L395 1001.5 L398.202 1004.002 L401.731 1006.613 L405.395 1009.267 L409 1011.9 L412.384 1014.543 L415.687 1017.216 L419.172 1019.83 L423.1 1022.3 L427.649 1024.568 L432.644 1026.691 L437.816 1028.756 L442.9 1030.85 L447.848 1033.07 L452.794 1035.344 L457.743 1037.509 L462.7 1039.4 L467.668 1040.909 L472.644 1042.144 L477.623 1043.27 L482.6 1044.45 L487.748 1045.751 L493.013 1047.078 L498.045 1048.354 L502.5 1049.5 L506.145 1050.464 L509.212 1051.297 L512.048 1052.082 L515 1052.9 L518.125 1053.81 L521.25 1054.756 L524.375 1055.649 L527.5 1056.4 L530.625 1056.959 L533.75 1057.381 L536.875 1057.738 L540 1058.1 L543.125 1058.471 L546.25 1058.819 L549.375 1059.157 L552.5 1059.5 L555.625 1059.838 L558.75 1060.169 L561.875 1060.515 L565 1060.9 L568.125 1061.362 L571.25 1061.878 L574.375 1062.38 L577.5 1062.8 L580.625 1063.097 L583.75 1063.316 L586.875 1063.514 L590 1063.75 L592.968 1064.05 L595.831 1064.378 L598.904 1064.705 L602.5 1065 L606.498 1065.24 L610.8 1065.447 L615.752 1065.655 L621.7 1065.9 L629.034 1066.213 L637.469 1066.569 L646.345 1066.915 L655 1067.2 L663.362 1067.409 L671.75 1067.569 L680.087 1067.695 L688.3 1067.8 L697.08 1067.883 L706.231 1067.938 L714.341 1067.973 L720 1068 L1490 1068" stroke="#00ff00"/>
<path d="M307.8 100 L308.3 452 L308.6 800 L309.2 900 L310.2 980 L310.5 1000 L310.8 1014 L312.9 1021 L314.6 1027.3 L315.5 1036 L316.5 1042 L318 1043.6 L320 1044.6 L322 1048.5 L324 1052.8 L327 1053.6 L329.5 1052.8 L331.5 1050.5 L333.5 1047.8 L335.2 1046.8 L337.3 1047.3 L338.9 1048.9 L341 1050 L342.5 1055 L344.2 1057.5 L346 1057.5 L348.3 1055.7 L350.5 1054.3 L352.5 1053.8 L356.7 1054 L360 1055.5 L362.9 1056.9 L365.8 1058.75 L368.75 1059 L372 1056.8 L374.5 1058.5 L376.25 1061.2 L379.6 1061 L383.75 1057.7 L385.8 1056.8 L388 1058.5 L390.8 1062.25 L394.2 1061.8 L396.5 1058 L398.3 1053.9 L401.25 1052.5 L404.2 1054.3 L406.7 1061 L410.8 1062 L413.3 1063.5 L417.1 1060.8 L420 1062.7 L422.5 1060.8 L426.7 1063.5 L430 1063.8 L433.6 1065.3 L437.3 1063.8 L440.9 1061.6 L444.6 1061.6 L448.2 1062.4 L450.4 1065.3 L454.1 1063.8 L457.7 1062 L461.4 1063.1 L466.5 1064.6 L470.8 1065.7 L476.7 1065.3 L481.1 1060.9 L483.2 1059.8 L486.9 1062.4 L490.5 1066.7 L493.5 1067.5 L499.3 1066.4 L506.6 1064.9 L513.9 1066.4 L516.8 1067.5 L519.7 1063.8 L524.1 1062 L527.7 1064.6 L532.1 1065.7 L535.8 1066.4 L540.9 1065.7 L546.7 1066.7 L550.3 1067.8 L554 1067.8 L562.7 1066 L568.6 1067.5 L575 1068 L581 1067.5 L585.8 1066.4 L590 1067.8 L595 1067.5 L600 1065 L605 1067.8 L615 1068 L640 1068 L645 1067.5 L648.3 1066.8 L652 1067.8 L660 1068 L696 1068 L700.8 1067.7 L705 1068 L1490 1068" stroke="#0000ff"/>
<path d="M308.6 100 L308.8 144 L309.1 300 L309.3 452 L309.5 600 L309.6 800 L309.8 900 L310.5 1000 L310.9 1030 L311.5 1048 L311.8 1068 L1490 1068" stroke="#ff0000"/>
</g>
<rect x="307" y="144" width="1167" height="924" fill="none" stroke="#000" stroke-width="2.083"/>
<path d="M1474 1068H1482.333M1474 883.2H1482.333M1474 698.4H1482.333M1474 513.6H1482.333M1474 328.8H1482.333M1474 144H1482.333" stroke="#f00" stroke-width="2.083" fill="none"/>
<g fill="#ff0000" stroke="#ff0000"><text class="s" font-size="55.556" transform="matrix(1.054 0 0 1.068 1491.307 1089.167)">0</text></g>
<g fill="#ff0000" stroke="#ff0000"><text class="s" font-size="55.556" transform="matrix(1.007 0 0 1.06 1490.815 904.13)">1</text></g>
<g fill="#ff0000" stroke="#ff0000"><text class="s" font-size="55.556" transform="matrix(1.016 0 0 1.063 1490.202 719.2)">2</text></g>
<g fill="#ff0000" stroke="#ff0000"><text class="s" font-size="55.556" transform="matrix(1.012 0 0 1.068 1491.122 534.557)">3</text></g>
<g fill="#ff0000" stroke="#ff0000"><text class="s" font-size="55.556" transform="matrix(1.054 0 0 1.06 1491.381 349.89)">4</text></g>
<g fill="#ff0000" stroke="#ff0000"><text class="s" font-size="55.556" transform="matrix(0.995 0 0 1.065 1491.025 165.029)">5</text></g>
<g fill="#ff0000" stroke="#ff0000"><text class="i" font-size="44.444" transform="matrix(0 -0.934 1.06 0 1568.196 959.128)">E</text><text class="i" font-size="31.111" transform="matrix(0 -1.099 1.035 0 1575.487 930.399)">x</text><text class="m" font-size="44.444" x="1566.146" y="911.146"> </text><text class="m" font-size="44.444" transform="matrix(0 -0.775 0.957 0 1565.233 881.428)">[</text><text class="i" font-size="44.444" transform="matrix(0 -1.131 1.042 0 1568.196 857.092)">m</text><text class="s" font-size="31.111" transform="matrix(0 -1.08 1.048 0 1575.61 814.237)">e</text><text class="i" font-size="44.444" transform="matrix(0 -1.075 1.048 0 1568.37 793.694)">c</text><text class="i" font-size="44.444" transform="matrix(0 -1.012 1.023 0 1568.381 768.739)">ω</text><text class="s" font-size="44.444" transform="matrix(0 -1.213 1.119 0 1571.833 732.517)">/</text><text class="s" font-size="44.444" transform="matrix(0 -1.024 1.068 0 1568.621 715.968)">|</text><text class="s" font-size="44.444" transform="matrix(0 -1.08 1.048 0 1568.37 702.156)">e</text><text class="s" font-size="44.444" transform="matrix(0 -1.024 1.068 0 1568.621 673.65)">|</text><text class="m" font-size="44.444" transform="matrix(0 -0.775 0.957 0 1565.233 657.284)">]</text><text class="m" font-size="44.444" x="1566.146" y="633.303"> </text><text class="m" font-size="44.444" transform="matrix(0 -1.019 1.125 0 1568.337 606.45)">&amp;</text><text class="m" font-size="44.444" x="1566.146" y="579.788"> </text><text class="i" font-size="44.444" transform="matrix(0 -1.074 1.042 0 1568.196 552.45)">n</text><text class="s" font-size="31.111" transform="matrix(0 -1.08 1.048 0 1575.61 524.762)">e</text><text class="m" font-size="44.444" transform="matrix(0 -0.836 0.955 0 1565.243 501.656)">(</text><text class="i" font-size="44.444" transform="matrix(0 -1.102 1.06 0 1568.196 477.958)">Z</text><text class="i" font-size="31.111" transform="matrix(0 -1.041 1.049 0 1575.487 446.919)">i</text><text class="i" font-size="44.444" transform="matrix(0 -1.074 1.042 0 1568.196 436.862)">n</text><text class="i" font-size="31.111" transform="matrix(0 -1.041 1.049 0 1575.487 408.891)">i</text><text class="m" font-size="44.444" transform="matrix(0 -0.836 0.955 0 1565.243 398.149)">)</text><text class="m" font-size="44.444" x="1566.146" y="372.657"> </text><text class="m" font-size="44.444" transform="matrix(0 -0.775 0.957 0 1565.233 342.938)">[</text><text class="i" font-size="44.444" transform="matrix(0 -1.074 1.042 0 1568.196 318.561)">n</text><text class="i" font-size="31.111" transform="matrix(0 -1.075 1.048 0 1575.61 290.829)">c</text><text class="m" font-size="44.444" transform="matrix(0 -0.775 0.957 0 1565.233 269.875)">]</text></g>
<rect x="770" y="166" width="240" height="212" rx="8.9" ry="8.9" fill="#fff" fill-opacity="0.8" stroke="#c6c6c6" stroke-width="2"/>
<path d="M788.94 203H877.83" stroke="#00ff00" stroke-width="6.944" stroke-linecap="square"/>
<path d="M788.94 269H877.83" stroke="#0000ff" stroke-width="6.944" stroke-linecap="square"/>
<path d="M788.94 335H877.83" stroke="#ff0000" stroke-width="6.944" stroke-linecap="square"/>
<g fill="#000000" stroke="#000000"><text class="i" font-size="44.444" transform="matrix(0.934 0 0 1.06 913.875 218.058)">E</text><text class="i" font-size="31.111" transform="matrix(1.099 0 0 1.035 942.605 225.35)">x</text></g>
<g fill="#000000" stroke="#000000"><text class="i" font-size="44.444" transform="matrix(1.074 0 0 1.042 914.638 285.252)">n</text><text class="i" font-size="31.111" transform="matrix(1.081 0 0 1.048 942.331 292.666)">e</text></g>
<g fill="#000000" stroke="#000000"><text class="i" font-size="44.444" transform="matrix(1.102 0 0 1.06 914.488 349.703)">Z</text><text class="i" font-size="31.111" transform="matrix(1.041 0 0 1.049 945.528 356.994)">i</text><text class="i" font-size="44.444" transform="matrix(1.074 0 0 1.042 955.584 349.703)">n</text><text class="i" font-size="31.111" transform="matrix(1.041 0 0 1.049 983.555 356.994)">i</text></g>
</svg>
</body></html>
